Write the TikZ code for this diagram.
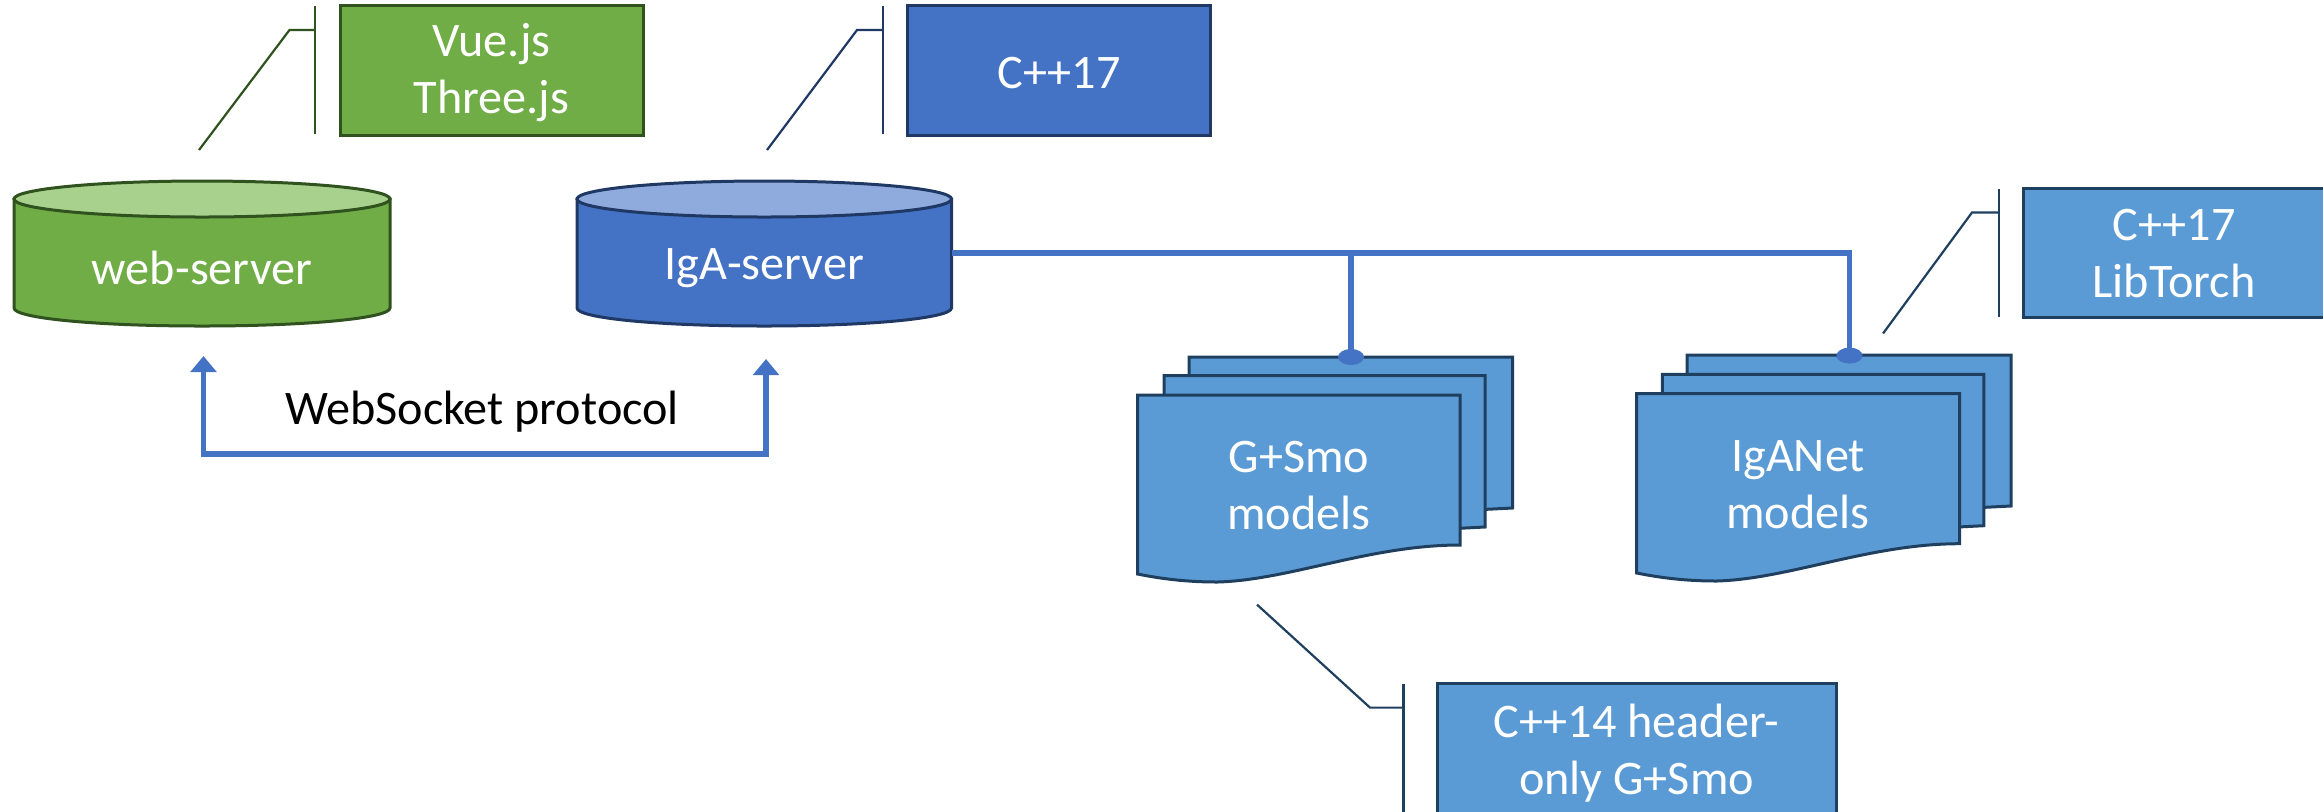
\documentclass[tikz,border=0pt]{standalone}
\usepackage{fontspec}
\setmainfont{Carlito}
\definecolor{gfill}{HTML}{70AD47}\definecolor{gline}{HTML}{30521F}\definecolor{glight}{HTML}{A9D18E}
\definecolor{bfill}{HTML}{4472C4}\definecolor{bline}{HTML}{1F3864}\definecolor{blight}{HTML}{8FAADC}
\definecolor{lfill}{HTML}{5B9BD5}\definecolor{lline}{HTML}{1F3F5F}
\usetikzlibrary{shapes.geometric,arrows.meta}
\tikzset{
  x=0.5pt,y=-0.5pt,
  lbl/.style={font=\fontsize{24.1}{28.5}\selectfont,align=center,inner sep=0pt},
  wlbl/.style={lbl,text=white},
  techbox/.style={draw,line width=1.5pt,inner sep=0pt},
  callout/.style={line width=1.1pt},
  wire/.style={draw=bfill,line width=2.8pt},
  docshape/.style={draw=lline,fill=lfill,line width=1.5pt},
  cyl/.style={line width=1.5pt},
  hub/.style={ellipse,fill=bfill,minimum width=13pt,minimum height=8pt,inner sep=0pt},
}
% cylinder: name, left, right, fill, line, light, text
\newcommand{\cylnode}[7]{
  \draw[cyl,draw=#5,fill=#4] (#2,199) -- (#2,308) .. controls (#2,318) and ({#2+80},326) .. ({(#2+#3)/2},326)
     .. controls ({#3-80},326) and (#3,318) .. (#3,308) -- (#3,199) -- cycle;
  \draw[cyl,draw=#5,fill=#6] ({(#2+#3)/2},199) ellipse ({(#3-#2)/2} and 18);
  \node[wlbl] (#1) at ({(#2+#3)/2},268) {#7};
}
% rear page: left, right, top, bottom
\newcommand{\plainpage}[4]{
  \draw[docshape] (#1,#3) -- (#2,#3) -- (#2,#4) -- ({#2-40},#4+2) -- (#1,#4+2) -- cycle;
}
% front page: left, right, top, right-bottom, left-bottom
\newcommand{\wavepage}[5]{
  \draw[docshape] (#1,#3) -- (#2,#3) -- (#2,#4) .. controls ({#2-90},#4) and ({#1+152},#5+6) .. ({#1+80},#5+8)
    .. controls ({#1+50},#5+8) and ({#1+25},#5+5) .. (#1,#5) -- cycle;
}
\begin{document}
\begin{tikzpicture}
\useasboundingbox (0,0) rectangle (2323,811);
\clip (0,0) rectangle (2323,811);

% servers
\cylnode{web}{14}{390}{gfill}{gline}{glight}{web-server}
\cylnode{iga}{577}{951.5}{bfill}{bline}{blight}{IgA-server}

% technology boxes
\node[techbox,draw=gline,fill=gfill,minimum width=151.5pt,minimum height=65pt] (vue) at (491.5,70) {};
\node[wlbl] (vuetxt) at ([yshift=-1.5pt]vue.center) {Vue.js\\Three.js};
\node[techbox,draw=bline,fill=bfill,minimum width=151.5pt,minimum height=65pt] (cpp) at (1059,70) {};
\node[wlbl] (cpptxt) at ([yshift=-1.5pt]cpp.center) {C++17};
\node[techbox,draw=lline,fill=lfill,minimum width=151pt,minimum height=64.5pt] (lib) at (2174,252.5) {};
\node[wlbl] (libtxt) at ([yshift=-0.75pt]lib.center) {C++17\\LibTorch};
\node[techbox,draw=lline,fill=lfill,minimum width=199.5pt,minimum height=67pt] (hdr) at (1636.5,750) {};
\node[wlbl] (hdrtxt) at ([yshift=-1.5pt]hdr.center) {C++14 header-\\only G+Smo};

% callouts
\coordinate (c1a) at (199,150); \coordinate (c1b) at (289.5,30); \coordinate (c1c) at (315,30);
\draw[callout,draw=gline] (c1a) -- (c1b) -- (c1c);
\draw[callout,draw=gline] (315,6) -- (315,134);
\coordinate (c2a) at (767,150); \coordinate (c2b) at (857,30); \coordinate (c2c) at (883,30);
\draw[callout,draw=bline] (c2a) -- (c2b) -- (c2c);
\draw[callout,draw=bline] (883,6) -- (883,134);
\coordinate (c3a) at (1883,333.5); \coordinate (c3b) at (1972,212.5); \coordinate (c3c) at (1998.6,212.5);
\draw[callout,draw=lline] (c3a) -- (c3b) -- (c3c);
\draw[callout,draw=lline] (1998.6,189) -- (1998.6,317);
\coordinate (c4a) at (1257,604.6); \coordinate (c4b) at (1370,707.6); \coordinate (c4c) at (1403.4,707.6);
\draw[callout,draw=lline] (c4a) -- (c4b) -- (c4c);
\draw[callout,draw=lline] (1403.4,684) -- (1403.4,815);

% document stacks
\plainpage{1189}{1512.6}{357}{508}
\plainpage{1164}{1485}{375.6}{527}
\wavepage{1137.5}{1460}{395}{545}{574}
\node[wlbl] (gsmo) at (1299,486) {G+Smo\\models};
\plainpage{1687}{2011}{355}{506}
\plainpage{1662.4}{1983.8}{374.4}{525.7}
\wavepage{1636.7}{1959.6}{393.6}{543.7}{573}
\node[wlbl] (ignet) at (1798,485) {IgANet\\models};

% connectors
\node[hub] (hubg) at (1351,357) {};
\node[hub] (hubi) at (1849.5,355.6) {};
\coordinate (trunk) at (951.5,253);
\draw[wire] (trunk) -- (hubi.center |- trunk) -- (hubi.center);
\draw[wire] (hubg.center |- trunk) -- (hubg.center);

\coordinate (al) at (203.5,356);
\coordinate (ar) at (766,359);
\draw[wire,{Triangle[width=12.75pt,length=8pt]}-{Triangle[width=12.75pt,length=8pt]}] (al) -- (al |- 0,454) -- (ar |- 0,454) -- (ar);
\node[lbl] (proto) at (482,412) {WebSocket protocol};
\end{tikzpicture}
\end{document}
